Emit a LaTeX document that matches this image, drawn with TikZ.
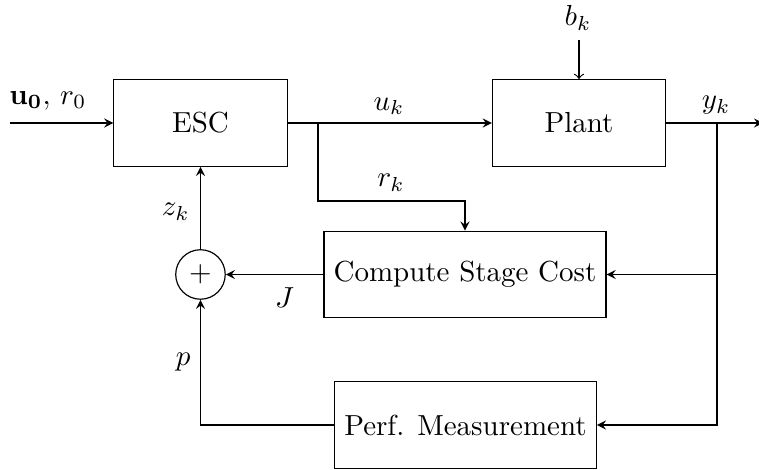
\documentclass[tikz,border=0pt]{standalone}
\usepackage{amsmath,amssymb}
\usepackage{bm}
\usepackage{tikz}

\tikzset{
    block/.style={draw, rectangle, minimum width=2.1cm, minimum height=1.05cm},
    sumnode/.style={draw, circle, minimum size=0.6cm, inner sep=0pt},
    sig/.style={-stealth}
}

\begin{document}
\begin{tikzpicture}[x=1cm,y=1cm]
    \useasboundingbox (0,0) rectangle (9.2,5.697);
    % blocks
    \node[block] (esc) at (2.43,4.206) {ESC};
    \node[block] (plant) at (7.018,4.206) {Plant};
    \node[block] (cost) at (5.636,2.37) {Compute Stage Cost};
    \node[block] (perf) at (5.642,0.545) {Perf. Measurement};
    \node[sumnode] (sum) at (2.43,2.37) {$+$};
    % helper points
    \coordinate (in) at (0.12,4.206);
    \coordinate (out) at (9.25,4.206);
    \coordinate (ybr) at (8.69,4.206);
    \coordinate (ubr) at (3.855,4.206);
    \coordinate (dist) at (7.018,5.21);
    % signals
    \draw[sig] (in) -- (esc);
    \draw[sig] (esc) -- (plant);
    \draw[sig] (plant) -- (out);
    \draw[->] (dist) -- (plant);
    \draw[sig] (ubr) |- (3.855,3.26) -| (cost.north);
    \draw[sig] (ybr) |- (cost.east);
    \draw[sig] (ybr) |- (perf.east);
    \draw[sig] (cost) -- (sum);
    \draw[sig] (perf.west) -| (sum.south);
    \draw[sig] (sum) -- (esc);
    % labels
    \node at (0.58,4.48) {$\mathbf{u_0},\, r_0$};
    \node (lbk) at (7.006,5.479) {$b_k$};
    \node at (4.715,4.41) {$u_k$};
    \node at (8.68,4.42) {$y_k$};
    \node at (4.74,3.48) {$r_k$};
    \node at (2.13,3.13) {$z_k$};
    \node at (3.45,2.085) {$J$};
    \node at (2.22,1.31) {$p$};
\end{tikzpicture}
\end{document}
